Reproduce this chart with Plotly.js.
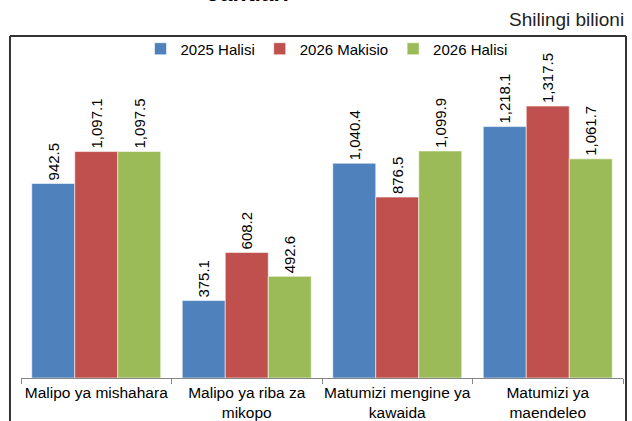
<!DOCTYPE html>
<html>
<head>
<meta charset="utf-8">
<script src="https://cdn.plot.ly/plotly-3.0.1.min.js"></script>
<style>html,body{margin:0;padding:0;background:#fff;}#chart{width:632px;height:421px;}</style>
</head>
<body>
<div id="chart"></div>
<script>
const categories = ['Malipo ya mishahara', 'Malipo ya riba za<br>mikopo', 'Matumizi mengine ya<br>kawaida', 'Matumizi ya<br>maendeleo'];
const seriesNames = ['2025 Halisi', '2026 Makisio', '2026 Halisi'];
const halisi2025 = [942.5, 375.1, 1040.4, 1218.1];
const makisio2026 = [1097.1, 608.2, 876.5, 1317.5];
const halisi2026 = [1097.5, 492.6, 1099.9, 1061.7];
const colors = ['#4F81BD', '#C0504D', '#9BBB59'];
const unitLabel = 'Shilingi bilioni';
const topTitle = 'Januari';

const font = 'Liberation Sans, Arial, sans-serif';
const values = [halisi2025, makisio2026, halisi2026];
const traces = values.map((v, i) => ({
  type: 'bar',
  name: seriesNames[i],
  x: categories,
  y: v,
  marker: {color: colors[i], line: {color: 'rgba(255,255,255,0.55)', width: 1}},
  texttemplate: '%{y:,.1f}',
  textposition: 'outside',
  textangle: -90,
  constraintext: 'none',
  cliponaxis: false,
  textfont: {family: font, size: 15, color: '#000'},
  hoverinfo: 'skip'
}));

const layout = {
  width: 632, height: 421,
  margin: {l: 21, r: 9, t: 36, b: 43},
  paper_bgcolor: '#fff', plot_bgcolor: '#fff',
  font: {family: font, color: '#000'},
  barmode: 'group', bargap: 0.143, bargroupgap: 0,
  showlegend: true,
  legend: {orientation: 'h', x: 0.5075, xanchor: 'center', y: 0.962, yanchor: 'middle',
           font: {family: font, size: 15, color: '#000'}, itemwidth: 30, bgcolor: 'rgba(0,0,0,0)'},
  xaxis: {
    type: 'category', showline: true, linecolor: '#868686', linewidth: 1,
    ticks: 'outside', tickson: 'boundaries', ticklen: 5, tickcolor: '#868686',
    tickangle: 0,
    tickfont: {family: font, size: 15.5, color: '#000'}, showgrid: false, zeroline: false,
    automargin: false
  },
  yaxis: {range: [0, 1657], visible: false, showgrid: false, zeroline: false, fixedrange: true},
  shapes: [
    {type: 'line', xref: 'paper', yref: 'paper', x0: -0.0183, x1: -0.0183, y0: 1, y1: -0.3, line: {color: '#333', width: 2}},
    {type: 'line', xref: 'paper', yref: 'paper', x0: -0.0183, x1: 1.005, y0: 1, y1: 1, line: {color: '#333', width: 2}},
    {type: 'line', xref: 'paper', yref: 'paper', x0: 1.005, x1: 1.005, y0: 1, y1: -0.3, line: {color: '#333', width: 2}}
  ],
  annotations: [
    {text: unitLabel, xref: 'paper', yref: 'paper', x: 1.005, xanchor: 'right', y: 1.0497, yanchor: 'middle',
     showarrow: false, font: {family: font, size: 19, color: '#222'}},
    {text: '<b>' + topTitle + '</b>', xref: 'paper', yref: 'paper', x: 0.377, xanchor: 'center', y: 1.1257, yanchor: 'middle',
     showarrow: false, font: {family: font, size: 23, color: '#000'}}
  ]
};

Plotly.newPlot('chart', traces, layout, {staticPlot: true, displayModeBar: false});
</script>
</body>
</html>
